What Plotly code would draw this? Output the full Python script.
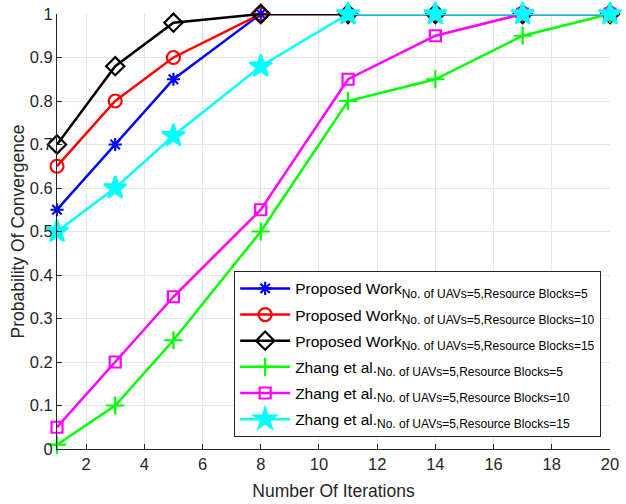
import plotly.graph_objects as go

iterations = [1, 3, 5, 8, 11, 14, 17, 20]

proposed_rb5 = [0.55, 0.70, 0.85, 1.0, 1.0, 1.0, 1.0, 1.0]
proposed_rb10 = [0.65, 0.80, 0.90, 1.0, 1.0, 1.0, 1.0, 1.0]
proposed_rb15 = [0.70, 0.88, 0.98, 1.0, 1.0, 1.0, 1.0, 1.0]
zhang_rb5 = [0.01, 0.10, 0.25, 0.50, 0.80, 0.85, 0.95, 1.0]
zhang_rb10 = [0.05, 0.20, 0.35, 0.55, 0.85, 0.95, 1.0, 1.0]
zhang_rb15 = [0.50, 0.60, 0.72, 0.88, 1.0, 1.0, 1.0, 1.0]

sub = "<sub><span style='font-size:12px'>No. of UAVs=5,Resource Blocks=%d</span></sub>"

series = [
    ("Proposed Work" + sub % 5, proposed_rb5, "#0000ff", "asterisk-open", 11),
    ("Proposed Work" + sub % 10, proposed_rb10, "#ff0000", "circle-open", 13),
    ("Proposed Work" + sub % 15, proposed_rb15, "#000000", "diamond-open", 14),
    ("Zhang et al." + sub % 5, zhang_rb5, "#00ff00", "cross-thin-open", 13),
    ("Zhang et al." + sub % 10, zhang_rb10, "#ff00ff", "square-open", 11),
    ("Zhang et al." + sub % 15, zhang_rb15, "#00ffff", "star", 17),
]

fig = go.Figure()
for i, (name, vals, color, sym, size) in enumerate(series):
    fig.add_trace(go.Scatter(
        x=iterations, y=vals, mode="lines+markers", name=name,
        legendgroup=f"g{i}",
        line=dict(color=color, width=2.5),
        marker=dict(symbol=sym, size=size, color=color,
                    line=dict(color=color, width=2.2)),
        cliponaxis=False,
    ))

axis_common = dict(
    showgrid=True, gridcolor="#e6e6e6", gridwidth=1,
    showline=True, linecolor="#262626", linewidth=1,
    ticks="inside", ticklen=5, tickcolor="#262626",
    tickfont=dict(size=16.5, color="#262626"),
    zeroline=False, automargin=False,
)

fig.update_layout(
    width=626, height=504,
    margin=dict(l=57, r=16, t=14, b=55),
    plot_bgcolor="white", paper_bgcolor="white",
    font=dict(family="Liberation Sans, Arial, sans-serif", color="#262626"),
    xaxis=dict(range=[1, 20], tickvals=[2, 4, 6, 8, 10, 12, 14, 16, 18, 20],
               title=dict(text="Number Of Iterations", font=dict(size=17.5), standoff=12),
               **axis_common),
    yaxis=dict(range=[0, 1], dtick=0.1, tickformat="~g",
               title=dict(text="Probability Of Convergence", font=dict(size=17.5), standoff=0),
               **axis_common),
    legend=dict(
        x=0.984, y=0.028, xanchor="right", yanchor="bottom",
        bgcolor="white", bordercolor="#262626", borderwidth=1,
        font=dict(size=15.5, color="black"), itemwidth=50,
        tracegroupgap=3,
    ),
)

# drop the default 8px page margin so the figure fills the window
fig.write_html("out.html", config={"displayModeBar": False},
               post_script="document.body.style.margin='0';")
